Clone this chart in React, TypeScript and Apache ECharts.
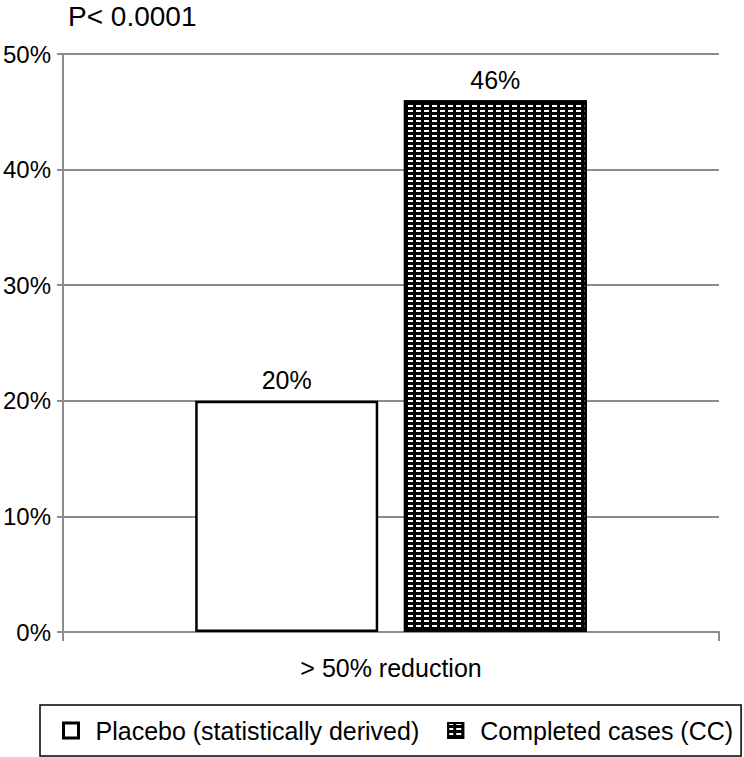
import React, { useEffect, useRef } from "react";
import * as echarts from "echarts";

const categories = ["> 50% reduction"];
const placeboValues = [20];
const completedValues = [46];
const seriesNames = ["Placebo (statistically derived)", "Completed cases (CC)"];
const yTicks = [0, 10, 20, 30, 40, 50];
const titleText = "P< 0.0001";

export default function App() {
  const ref = useRef<HTMLDivElement>(null);
  useEffect(() => {
    const chart = echarts.init(ref.current!, null, { renderer: "svg" });
    const font = "'Liberation Sans', Arial, sans-serif";
    const decal = {
      symbol: "rect",
      color: "#ffffff",
      backgroundColor: "#000000",
      dashArrayX: [5, 3],
      dashArrayY: [1.3, 3],
      symbolSize: 1,
      rotation: 0,
    };
    chart.setOption({
      animation: false,
      textStyle: { fontFamily: font },
      title: {
        text: titleText,
        left: 68,
        top: 2,
        padding: 0,
        textStyle: { fontSize: 28, fontWeight: "normal", color: "#000", fontFamily: font },
      },
      grid: { left: 62, right: 25, top: 54, bottom: 125, containLabel: false },
      legend: {
        bottom: 1,
        left: 40,
        padding: [13, 8, 13, 22],
        borderColor: "#000",
        borderWidth: 1.5,
        icon: "rect",
        itemWidth: 15,
        itemHeight: 15,
        itemGap: 28,
        textStyle: { fontSize: 25, color: "#000", fontFamily: font, padding: [0, 0, 0, 12] },
        data: [
          { name: seriesNames[0], itemStyle: { borderWidth: 3, borderColor: "#000", color: "#fff" } },
          { name: seriesNames[1] },
        ],
      },
      xAxis: {
        type: "category",
        data: categories,
        axisLine: { lineStyle: { color: "#8c8c8c", width: 2 } },
        axisTick: { show: true, length: 9, lineStyle: { color: "#8c8c8c", width: 2 } },
        axisLabel: { fontSize: 25, color: "#000", margin: 23, fontFamily: font },
      },
      yAxis: {
        type: "value",
        min: yTicks[0],
        max: yTicks[yTicks.length - 1],
        interval: 10,
        axisLine: { show: true, lineStyle: { color: "#8c8c8c", width: 2 } },
        axisTick: { show: true, length: 6, lineStyle: { color: "#8c8c8c", width: 2 } },
        axisLabel: { fontSize: 24, color: "#000", margin: 12, formatter: "{value}%", fontFamily: font },
        splitLine: { lineStyle: { color: "#8c8c8c", width: 2 } },
      },
      series: [
        {
          name: seriesNames[0],
          type: "bar",
          data: placeboValues,
          barWidth: 183,
          barGap: "14%",
          itemStyle: { color: "#ffffff", borderColor: "#000", borderWidth: 2.5 },
          label: { show: true, position: "top", formatter: "{c}%", fontSize: 25, color: "#000", distance: 8, fontFamily: font },
        },
        {
          name: seriesNames[1],
          type: "bar",
          data: completedValues,
          barWidth: 183,
          itemStyle: { color: "#000000", borderColor: "#000", borderWidth: 2.5, decal },
          label: { show: true, position: "top", formatter: "{c}%", fontSize: 25, color: "#000", distance: 8, fontFamily: font },
        },
      ],
    });
    return () => chart.dispose();
  }, []);
  return <div ref={ref} style={{ width: 744, height: 757, position: "absolute", left: 0, top: 0 }} />;
}
